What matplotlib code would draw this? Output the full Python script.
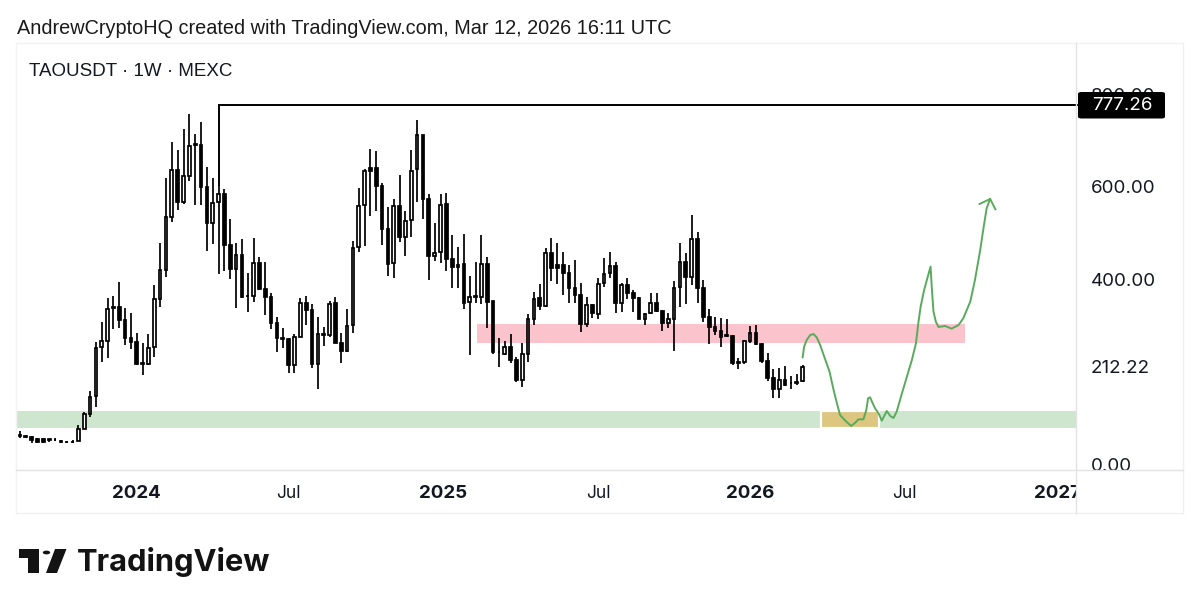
import matplotlib
matplotlib.use('Agg')
import matplotlib.pyplot as plt
from matplotlib.lines import Line2D
from matplotlib.patches import Circle, FancyBboxPatch, Polygon, Rectangle
from matplotlib.transforms import Bbox

# weekly candles
opens = [63.8, 60.2, 58.7, 54.4, 54.4, 54.4, 53, 51.5, 48.6, 49.4, 51.5, 77.5, 109.2, 148.1, 253.3, 267.7,
         339.8, 339.8, 312.4, 274.2, 264.1, 218.7, 216.6, 253.3, 357.1, 419.8, 535.8, 636.7, 566.8, 624.5,
         692.2, 690.8, 599.3, 521.4, 566.8, 584.8, 474.6, 422.7, 452.9, 365, 365, 434.9, 379.4, 361.4, 305.2,
         272.8, 271.3, 215.1, 276.3, 348.4, 334, 217.2, 282.1, 279.9, 348.4, 261.9, 246, 301.5, 469.5, 560.3,
         640.3, 641, 602.8, 509.1, 434.9, 559.5, 491.1, 528.5, 638.1, 713, 574.7, 451.4, 460.1, 563.1, 443.5,
         427.7, 433.4, 350.5, 363.5, 362.1, 434.1, 352.7, 243.9, 239.5, 254.7, 225.9, 182.6, 238.8, 314.5,
         359.2, 342.6, 457.9, 431.3, 431.3, 413.2, 380.8, 366.4, 303.7, 344, 325.3, 391.6, 414.7, 428.4, 349.8,
         388, 371.4, 360.6, 314.5, 326.8, 349.8, 332.5, 306.6, 315.2, 383, 438.5, 404.6, 487.5, 380.8, 319.6,
         297.9, 288.6, 279.9, 278.5, 220.8, 221.5, 267, 285, 260.5, 223, 186.2, 162.4, 182.6, 176.9, 178.3, 180.5]
highs = [71.7, 63.8, 61.6, 56.6, 58, 55.8, 58, 53, 50.8, 53, 84.7, 113.5, 158.9, 264.1, 307.4, 359.3,
         365, 395.3, 337.6, 328.3, 283.6, 262, 281.4, 388, 479.6, 618.7, 698, 680, 724.7, 757.1,
         714.6, 739.8, 643.9, 620.2, 604.3, 595.7, 530, 478.2, 487.5, 413.3, 490.4, 449.4, 438.5, 371.5, 319.6,
         294.4, 272.8, 281.4, 360.6, 365, 346.2, 319.5, 296.5, 354.1, 362.8, 285, 335.4, 483.1, 598.5, 638.1,
         681.3, 677.7, 609.3, 555.9, 574.7, 625.1, 548, 679.9, 744.8, 713, 584.8, 522.8, 585.5, 587.6, 495.4,
         470.2, 497.6, 408.2, 437.7, 495.4, 447.8, 353.4, 274.1, 267.7, 281.3, 233.1, 263.3, 325.3, 373.6,
         389.5, 468.7, 488.9, 478.1, 458.6, 431.3, 442, 391.6, 362.8, 347, 403.9, 447.1, 460.1, 438.5, 391.6,
         403.9, 377.2, 362.8, 328.2, 370, 371.4, 334, 326.8, 397.4, 478.1, 456.5, 538.7, 503.3, 398.8, 335.4,
         318.1, 316, 314.5, 279.9, 230.9, 269.1, 299.4, 301.5, 261.9, 241.7, 206.4, 207.8, 213.6, 192, 194.9, 215]
lows = [56.6, 56.6, 45.7, 45.7, 45.7, 49.4, 50.8, 47.2, 45.7, 45.7, 51, 76, 103.4, 125, 222.3, 231,
        292.2, 294.4, 258.4, 249, 215.1, 192.8, 215.1, 233.1, 339.8, 406.1, 525, 550.3, 563.2, 613.7,
        561.1, 561.1, 462.3, 476, 411.9, 418.4, 400.3, 337.6, 359.3, 330.4, 350.6, 377.3, 323.2, 293, 242.5,
        252.6, 197.1, 198.5, 274.9, 301.5, 207.8, 162.4, 256.1, 274.9, 261.9, 220.1, 243.9, 283.5, 460.1, 473.1,
        537.9, 548.7, 474.5, 408.2, 402.4, 481.7, 450.7, 492.5, 566.7, 530, 398.8, 440.6, 434.9, 419, 382.3,
        380.8, 336.1, 236.7, 349.8, 346.9, 295.8, 238.1, 211.4, 236.7, 218.6, 177.6, 168.2, 222.3, 301.5,
        334, 341.2, 397.4, 389.5, 366.4, 348.4, 348.4, 287.1, 296.5, 316, 315.2, 383, 402.4, 328.2, 330.4,
        357, 329, 313.8, 301.5, 325.3, 330.4, 289.3, 295.8, 246, 341.2, 346.9, 388, 349.8, 308.7, 260.5,
        279.9, 254.7, 274.9, 215, 206.4, 217.2, 261.9, 259, 220.1, 180.5, 143, 143, 169.6, 163.2, 171.8, 179]
closes = [62.3, 61.6, 53, 49.4, 48.6, 53, 52.2, 48.6, 47.9, 48.6, 77.5, 109.9, 146.7, 252.6, 267, 335.5,
          337.6, 312.4, 274.2, 265.6, 217.3, 217.3, 252.6, 357.1, 419.8, 534.4, 636.7, 568.3, 623.8, 688.6,
          690.8, 599.3, 521.4, 564.7, 584.8, 474.6, 422.7, 452.9, 362.9, 363.6, 434.9, 379.4, 361.4, 305.2, 272.8,
          271.3, 215.1, 275.7, 348.4, 334, 216.5, 282.1, 280.6, 346.9, 263.3, 246, 300.1, 468.7, 559.5, 635.2,
          635.2, 602.8, 509.1, 433.4, 559.5, 491.1, 527.1, 635.2, 711.6, 574.7, 450.7, 457.9, 561.7, 443.5, 426.2,
          432, 349.8, 362.8, 361.4, 434.1, 352, 242.4, 242.4, 254.7, 225.9, 182.6, 238.1, 313.8, 357.7,
          342.6, 457.9, 424, 425.5, 413.2, 382.3, 366.4, 303.7, 344, 326.8, 390.2, 411.8, 428.4, 349.8, 387.3,
          371.4, 359.9, 314.5, 325.3, 349.8, 332.5, 306.6, 313.8, 382.3, 438.5, 404.6, 487.5, 380.8, 319.6, 297.9,
          288.6, 276.3, 277.8, 220.1, 219.4, 267, 285, 260.5, 223, 186.2, 162.4, 182.6, 171.8, 175.4, 175.4, 211.4]

# hand drawn projection (week number, price)
path_weeks = [134.0, 134.25, 134.7, 135.3, 135.85, 136.4, 137.0, 137.8, 138.6, 139.3, 139.8, 140.4, 141.3,
              142.3, 143.0, 143.55, 144.4, 144.9, 145.2, 145.55, 146.0, 146.4, 147.0, 147.55, 148.4, 149.0,
              149.55, 150.1, 151.0, 151.85, 152.7, 153.4, 153.8, 154.2, 154.8, 155.5, 155.9, 156.1, 156.4,
              156.8, 157.25, 158.4, 159.5, 160.7, 161.5, 162.7, 163.5, 164.4, 165.0, 165.5, 166.1]
path_prices = [231.7, 254.7, 269.2, 280, 282.1, 274.9, 258.3, 229.5, 200.7, 161, 135.8, 107, 94.7,
               83.2, 90.4, 97.6, 97.6, 117.8, 143, 145.2, 132.2, 121.4, 110.6, 94.7, 115.6, 104.8,
               100.5, 114.2, 153.8, 189.9, 225.9, 262, 305.2, 341.2, 377.3, 409.7, 427.7, 384.5, 330.4,
               308.8, 297.3, 299.4, 293.7, 301.6, 316, 352, 398.9, 463.7, 514.2, 553.8, 574]
arrow_weeks = [164.3, 166.1, 167.0]
arrow_prices = [563.2, 574, 551.7]

# zones
pink_weeks = [78.2, 161.8]
pink_prices = [263.3, 303.8]
green_prices = [79, 116.3]
yellow_weeks = [137.2, 147.0]
yellow_prices = [79, 115]

last_price = 777.26
line_start_week = 34
line_start_price = 604

price_ticks = [0, 212.22, 400, 600, 800]
price_labels = ['0.00', '212.22', '400.00', '600.00', '800.00']
time_ticks = [20, 46, 72.4, 99, 125, 151.5, 177.7]
time_labels = ['2024', 'Jul', '2025', 'Jul', '2026', 'Jul', '2027']

W, H = 1200, 609
DARK = '#131722'
PRICE_FONT = ['Inter', 'DejaVu Sans']


# pixel position in the picture to figure fraction
def fx(x):
    return x / W


def fy(y):
    return 1 - y / H


fig = plt.figure(figsize=(W / 100, H / 100), dpi=100, facecolor='white')
ax = fig.add_axes([fx(16), fy(470), fx(1076 - 16), (470 - 43) / H])
ax.set_xlim(-0.68, 180.8)
ax.set_ylim(-11.9, 911.2)
for side in ax.spines:
    ax.spines[side].set_visible(False)

# zones under the candles
ax.axhspan(green_prices[0], green_prices[1], color='#cde6cd', lw=0, zorder=1)
ax.add_patch(Rectangle((yellow_weeks[0], yellow_prices[0]), yellow_weeks[1] - yellow_weeks[0],
                       yellow_prices[1] - yellow_prices[0], facecolor='#dcc680', edgecolor='white',
                       lw=1.6, zorder=1.5))
ax.add_patch(Rectangle((pink_weeks[0], pink_prices[0]), pink_weeks[1] - pink_weeks[0],
                       pink_prices[1] - pink_prices[0], facecolor='#fbc3cb', edgecolor='none', zorder=1.5))

# candles
weeks = list(range(len(opens)))
ax.vlines(weeks, lows, highs, color='black', lw=1.25, zorder=3)
bottoms = [min(o, c) for o, c in zip(opens, closes)]
heights = [abs(o - c) for o, c in zip(opens, closes)]
colors = ['white' if c > o else 'black' for o, c in zip(opens, closes)]
ax.bar(weeks, heights, bottom=bottoms, width=0.46, color=colors, edgecolor='black', linewidth=1.25, zorder=4)

# top line from the high
ax.plot([line_start_week, line_start_week, 181], [line_start_price, last_price, last_price],
        color='black', lw=1.4, zorder=3.5, solid_joinstyle='miter', clip_on=False)

# green sketch
ax.plot(path_weeks, path_prices, color='#59aa5c', lw=1.4, zorder=5)
ax.plot(arrow_weeks, arrow_prices, color='#59aa5c', lw=1.4, zorder=5)

# price scale
ax.yaxis.tick_right()
ax.set_yticks(price_ticks)
ax.set_yticklabels(price_labels, fontsize=13.5, family=PRICE_FONT, color=DARK)
ax.tick_params(axis='y', length=0, pad=10.5)
ax.set_xticks([])
for lbl in ax.get_yticklabels():
    lbl.set_clip_box(Bbox([[1077, H - 470], [1183, H - 43]]))
    lbl.set_clip_on(True)

# time scale
ax_t = fig.add_axes([fx(16), fy(513), fx(1076 - 16), (513 - 470) / H])
ax_t.set_xlim(ax.get_xlim())
ax_t.set_yticks([])
ax_t.set_facecolor('none')
for side in ax_t.spines:
    ax_t.spines[side].set_visible(False)
ax_t.set_xticks(time_ticks)
ax_t.set_xticklabels(time_labels, fontsize=12.5, family=PRICE_FONT, color=DARK)
ax_t.tick_params(axis='x', length=0, pad=-20)
for lbl, name in zip(ax_t.get_xticklabels(), time_labels):
    if name != 'Jul':
        lbl.set_fontweight('bold')
        lbl.set_fontsize(13.5)
    lbl.set_clip_box(Bbox([[16, H - 513], [1076, H - 470]]))
    lbl.set_clip_on(True)

# panel border lines
for x0, y0, x1, y1, col in [(16, 43, 1183, 43, '#f3f3f3'), (16, 43, 16, 513, '#f3f3f3'),
                            (16, 513, 1183, 513, '#f0f0f0'), (1183, 43, 1183, 513, '#f0f0f0'),
                            (16, 470, 1183, 470, '#e2e2e2'), (1076, 43, 1076, 513, '#e2e2e2')]:
    fig.add_artist(Line2D([fx(x0), fx(x1)], [fy(y0), fy(y1)], color=col, lw=1, zorder=2))

# last price label
fig.add_artist(FancyBboxPatch((fx(1078), fy(118.5)), fx(87), 26.5 / H, boxstyle='round,pad=0,rounding_size=0.003',
                              facecolor='black', edgecolor='none', zorder=6))
fig.text(fx(1122), fy(106), f'{last_price:.2f}', color='white', fontsize=13.5, family=PRICE_FONT,
         ha='center', va='center', zorder=7)

# header and legend
fig.text(fx(17), fy(29), 'AndrewCryptoHQ created with TradingView.com, Mar 12, 2026 16:11 UTC',
         fontsize=14.35, family='Liberation Sans', color='#1a1a1a', va='center')
fig.text(fx(29), fy(71), 'TAOUSDT · 1W · MEXC', fontsize=13.5, family='Liberation Sans', color=DARK, va='center')

# TradingView logo
logo = '#131313'
fig.add_artist(Polygon([(fx(19), fy(549)), (fx(39), fy(549)), (fx(39), fy(573)), (fx(28), fy(573)),
                        (fx(28), fy(557.5)), (fx(19), fy(557.5))], closed=True, facecolor=logo, edgecolor='none'))
fig.add_artist(Polygon([(fx(55), fy(549)), (fx(66.5), fy(549)), (fx(57), fy(573)), (fx(46), fy(573))],
                       closed=True, facecolor=logo, edgecolor='none'))
fig.add_artist(Circle((fx(46.5), fy(552.5)), 3.7 / W, facecolor=logo, edgecolor='none',
                      transform=fig.transFigure))
fig.text(fx(77), fy(562), 'TradingView', fontsize=22.2, family='Inter', fontweight='bold', color=logo, va='center')

fig.savefig('out.png', dpi=100)
